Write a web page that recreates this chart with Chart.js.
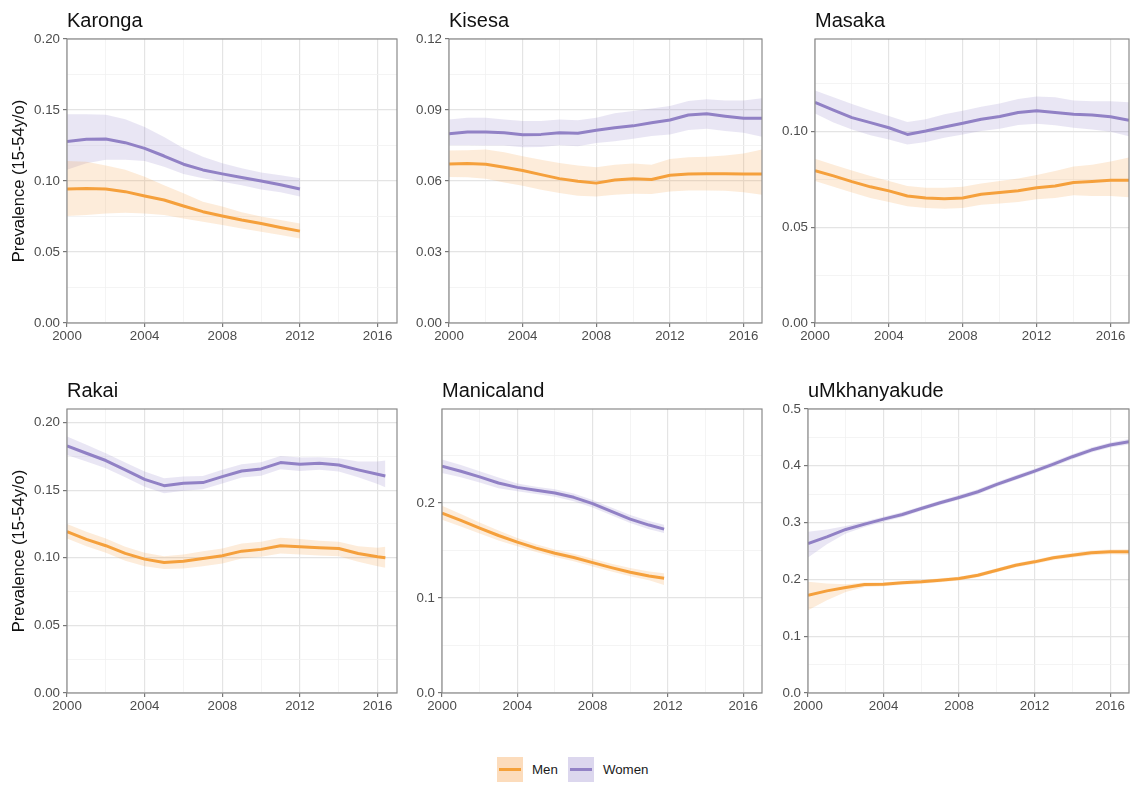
<!DOCTYPE html>
<html>
<head>
<meta charset="utf-8">
<script src="https://cdn.jsdelivr.net/npm/chart.js@4.4.1/dist/chart.umd.min.js"></script>
<style>
  body { margin: 0; background: #fff; width: 1131px; height: 787px; position: relative; overflow: hidden;
         font-family: "Liberation Sans", Arial, sans-serif; }
  canvas { position: absolute; }
  #legend { position: absolute; left: 497px; top: 757px; height: 25px; display: flex; align-items: center;
            font-size: 13.3px; color: #1a1a1a; }
  .key { width: 26px; height: 25px; position: relative; }
  .key span { position: absolute; left: 2px; right: 2px; top: 11px; height: 3px; }
  .lab { margin-left: 9px; margin-right: 10px; }
</style>
</head>
<body>
<canvas id="c0" width="400" height="355" style="left:0px;top:0px"></canvas>
<canvas id="c1" width="366" height="355" style="left:400px;top:0px"></canvas>
<canvas id="c2" width="365" height="355" style="left:766px;top:0px"></canvas>
<canvas id="c3" width="400" height="355" style="left:0px;top:370px"></canvas>
<canvas id="c4" width="366" height="355" style="left:400px;top:370px"></canvas>
<canvas id="c5" width="365" height="355" style="left:766px;top:370px"></canvas>
<div id="legend">
  <div class="key" style="background:#fcdcbc"><span style="background:#f5a13a"></span></div><span class="lab">Men</span>
  <div class="key" style="background:#dcd7ee"><span style="background:#9383c6"></span></div><span class="lab">Women</span>
</div>
<script>
// ---- Prevalence among 15-54 year olds, by site, sex and year (estimate with 95% band) ----
const karongaYears = [2000,2001,2002,2003,2004,2005,2006,2007,2008,2009,2010,2011,2012];
const karongaMen     = [0.0944,0.0948,0.0944,0.0925,0.0894,0.0866,0.0824,0.0784,0.0753,0.0725,0.0701,0.0673,0.0647];
const karongaMenHi   = [0.1140,0.1136,0.1110,0.1080,0.1030,0.0970,0.0913,0.0854,0.0820,0.0780,0.0750,0.0725,0.0700];
const karongaMenLo   = [0.0753,0.0760,0.0772,0.0776,0.0772,0.0760,0.0736,0.0713,0.0690,0.0666,0.0642,0.0619,0.0595];
const karongaWomen   = [0.1278,0.1294,0.1296,0.1270,0.1230,0.1176,0.1118,0.1078,0.1050,0.1024,0.1000,0.0974,0.0944];
const karongaWomenHi = [0.1470,0.1470,0.1466,0.1435,0.1380,0.1310,0.1230,0.1170,0.1125,0.1090,0.1060,0.1040,0.1020];
const karongaWomenLo = [0.1080,0.1125,0.1150,0.1150,0.1140,0.1100,0.1050,0.1020,0.0995,0.0970,0.0940,0.0920,0.0890];

const kisesaYears = [2000,2001,2002,2003,2004,2005,2006,2007,2008,2009,2010,2011,2012,2013,2014,2015,2016,2017];
const kisesaMen     = [0.0672,0.0674,0.0671,0.0658,0.0644,0.0627,0.0610,0.0599,0.0591,0.0604,0.0610,0.0606,0.0624,0.0630,0.0631,0.0631,0.0630,0.0630];
const kisesaMenHi   = [0.0729,0.0730,0.0733,0.0722,0.0705,0.0690,0.0676,0.0665,0.0658,0.0669,0.0674,0.0669,0.0693,0.0700,0.0702,0.0708,0.0716,0.0733];
const kisesaMenLo   = [0.0617,0.0616,0.0610,0.0594,0.0580,0.0563,0.0549,0.0538,0.0535,0.0542,0.0546,0.0545,0.0556,0.0560,0.0560,0.0559,0.0552,0.0542];
const kisesaWomen   = [0.0800,0.0807,0.0807,0.0804,0.0795,0.0797,0.0804,0.0802,0.0814,0.0825,0.0833,0.0846,0.0858,0.0879,0.0884,0.0874,0.0865,0.0865];
const kisesaWomenHi = [0.0860,0.0867,0.0867,0.0860,0.0853,0.0853,0.0860,0.0857,0.0867,0.0886,0.0896,0.0906,0.0917,0.0938,0.0945,0.0940,0.0940,0.0950];
const kisesaWomenLo = [0.0751,0.0751,0.0750,0.0750,0.0743,0.0744,0.0751,0.0747,0.0761,0.0768,0.0778,0.0790,0.0797,0.0815,0.0821,0.0811,0.0804,0.0787];

const masakaYears = [2000,2001,2002,2003,2004,2005,2006,2007,2008,2009,2010,2011,2012,2013,2014,2015,2016,2017];
const masakaMen     = [0.0797,0.0769,0.0739,0.0712,0.0691,0.0664,0.0654,0.0650,0.0654,0.0673,0.0682,0.0691,0.0707,0.0716,0.0735,0.0740,0.0746,0.0746];
const masakaMenHi   = [0.0859,0.0827,0.0797,0.0769,0.0742,0.0716,0.0707,0.0707,0.0712,0.0730,0.0742,0.0756,0.0774,0.0795,0.0818,0.0827,0.0845,0.0866];
const masakaMenLo   = [0.0742,0.0712,0.0682,0.0654,0.0633,0.0611,0.0601,0.0597,0.0601,0.0618,0.0625,0.0633,0.0647,0.0654,0.0668,0.0664,0.0664,0.0657];
const masakaWomen   = [0.1154,0.1113,0.1074,0.1048,0.1021,0.0986,0.1004,0.1025,0.1044,0.1065,0.1080,0.1101,0.1110,0.1101,0.1092,0.1087,0.1078,0.1060];
const masakaWomenHi = [0.1216,0.1180,0.1145,0.1113,0.1083,0.1051,0.1065,0.1092,0.1110,0.1131,0.1148,0.1171,0.1184,0.1180,0.1163,0.1159,0.1159,0.1154];
const masakaWomenLo = [0.1095,0.1048,0.1012,0.0982,0.0959,0.0933,0.0947,0.0968,0.0986,0.1004,0.1016,0.1035,0.1042,0.1034,0.1021,0.1012,0.1000,0.0977];

const rakaiYears = [2000,2001,2002,2003,2004,2005,2006,2007,2008,2009,2010,2011,2012,2013,2014,2015,2016,2016.4];
const rakaiMen     = [0.1193,0.1136,0.1089,0.1032,0.0990,0.0965,0.0975,0.0995,0.1015,0.1049,0.1062,0.1089,0.1081,0.1074,0.1069,0.1032,0.1007,0.1000];
const rakaiMenHi   = [0.1249,0.1193,0.1143,0.1081,0.1037,0.1012,0.1025,0.1049,0.1069,0.1106,0.1119,0.1148,0.1138,0.1126,0.1119,0.1086,0.1074,0.1081];
const rakaiMenLo   = [0.1143,0.1086,0.1037,0.0978,0.0938,0.0916,0.0921,0.0938,0.0958,0.0995,0.1007,0.1032,0.1025,0.1017,0.1012,0.0970,0.0938,0.0926];
const rakaiWomen   = [0.1827,0.1773,0.1719,0.1650,0.1580,0.1533,0.1551,0.1556,0.1600,0.1642,0.1657,0.1704,0.1691,0.1699,0.1686,0.1650,0.1617,0.1605];
const rakaiWomenHi = [0.1896,0.1835,0.1773,0.1704,0.1637,0.1588,0.1600,0.1605,0.1650,0.1691,0.1706,0.1753,0.1741,0.1743,0.1736,0.1711,0.1711,0.1719];
const rakaiWomenLo = [0.1760,0.1711,0.1662,0.1595,0.1526,0.1477,0.1496,0.1506,0.1550,0.1593,0.1607,0.1654,0.1642,0.1650,0.1637,0.1595,0.1546,0.1521];

const manicalandYears = [2000,2001,2002,2003,2004,2005,2006,2007,2008,2009,2010,2011,2011.8];
const manicalandMen     = [0.1894,0.1817,0.1736,0.1658,0.1588,0.1525,0.1472,0.1426,0.1373,0.1320,0.1271,0.1232,0.1208];
const manicalandMenHi   = [0.1972,0.1885,0.1795,0.1710,0.1632,0.1566,0.1512,0.1466,0.1413,0.1362,0.1315,0.1279,0.1260];
const manicalandMenLo   = [0.1824,0.1752,0.1678,0.1606,0.1544,0.1484,0.1432,0.1386,0.1333,0.1279,0.1228,0.1186,0.1137];
const manicalandWomen   = [0.2387,0.2335,0.2275,0.2211,0.2165,0.2134,0.2106,0.2060,0.1993,0.1912,0.1831,0.1768,0.1725];
const manicalandWomenHi = [0.2458,0.2400,0.2335,0.2268,0.2205,0.2172,0.2145,0.2100,0.2033,0.1953,0.1873,0.1812,0.1771];
const manicalandWomenLo = [0.2317,0.2272,0.2216,0.2155,0.2124,0.2095,0.2066,0.2020,0.1953,0.1871,0.1789,0.1725,0.1683];

const umkhanyakudeYears = [2000,2001,2002,2003,2004,2005,2006,2007,2008,2009,2010,2011,2012,2013,2014,2015,2016,2017];
const umkhanyakudeMen     = [0.1722,0.1798,0.1857,0.1910,0.1915,0.1939,0.1957,0.1986,0.2015,0.2074,0.2162,0.2250,0.2309,0.2380,0.2427,0.2468,0.2485,0.2485];
const umkhanyakudeMenHi   = [0.1957,0.1927,0.1915,0.1945,0.1950,0.1972,0.1990,0.2019,0.2048,0.2108,0.2196,0.2285,0.2345,0.2417,0.2466,0.2508,0.2527,0.2532];
const umkhanyakudeMenLo   = [0.1457,0.1633,0.1780,0.1868,0.1878,0.1904,0.1923,0.1952,0.1981,0.2039,0.2127,0.2214,0.2272,0.2342,0.2387,0.2426,0.2441,0.2436];
const umkhanyakudeWomen   = [0.2632,0.2750,0.2879,0.2973,0.3061,0.3143,0.3249,0.3349,0.3443,0.3543,0.3672,0.3790,0.3907,0.4031,0.4160,0.4277,0.4365,0.4424];
const umkhanyakudeWomenHi = [0.2838,0.2880,0.2938,0.3020,0.3105,0.3185,0.3290,0.3390,0.3484,0.3585,0.3713,0.3832,0.3950,0.4075,0.4203,0.4320,0.4410,0.4472];
const umkhanyakudeWomenLo = [0.2385,0.2620,0.2808,0.2922,0.3015,0.3100,0.3207,0.3308,0.3402,0.3501,0.3630,0.3748,0.3864,0.3987,0.4117,0.4234,0.4320,0.4376];

// Axis settings: upper limit, gridline step, labelled step, label decimals
const siteNames  = ['Karonga', 'Kisesa', 'Masaka', 'Rakai', 'Manicaland', 'uMkhanyakude'];
const yMax       = [0.2, 0.12, 0.1485, 0.21, 0.299, 0.5];
const yGridStep  = [0.025, 0.015, 0.025, 0.025, 0.05, 0.05];
const yLabelStep = [0.05, 0.03, 0.05, 0.05, 0.1, 0.1];
const yDecimals  = [2, 2, 2, 2, 1, 1];
const xMin = 2000, xMax = 2017, xGridStep = 2, xLabelStep = 4;
const yAxisTitle = 'Prevalence (15-54y/o)';
const seriesNames = ['Men', 'Women'];

const siteSeries = [
  [karongaYears, karongaMen, karongaMenLo, karongaMenHi, karongaWomen, karongaWomenLo, karongaWomenHi],
  [kisesaYears, kisesaMen, kisesaMenLo, kisesaMenHi, kisesaWomen, kisesaWomenLo, kisesaWomenHi],
  [masakaYears, masakaMen, masakaMenLo, masakaMenHi, masakaWomen, masakaWomenLo, masakaWomenHi],
  [rakaiYears, rakaiMen, rakaiMenLo, rakaiMenHi, rakaiWomen, rakaiWomenLo, rakaiWomenHi],
  [manicalandYears, manicalandMen, manicalandMenLo, manicalandMenHi, manicalandWomen, manicalandWomenLo, manicalandWomenHi],
  [umkhanyakudeYears, umkhanyakudeMen, umkhanyakudeMenLo, umkhanyakudeMenHi, umkhanyakudeWomen, umkhanyakudeWomenLo, umkhanyakudeWomenHi]
];

// ---- styling ----
const FONT = '"Liberation Sans", Arial, Helvetica, sans-serif';
const MEN_LINE = '#f5a13a', WOMEN_LINE = '#9383c6';
const MEN_BAND = 'rgba(245,160,70,0.20)', WOMEN_BAND = 'rgba(140,120,195,0.19)';
const GRID_MAJOR = '#e4e4e4', GRID_MINOR = '#f1f1f1';
const TICK_COLOR = '#777', FRAME_COLOR = '#8a8a8a';
const padLeft  = [27, 9, 9, 27, 2, 2];
const padRight = [3, 4, 2, 3, 4, 2];

const isMultiple = (v, step) => Math.abs(v / step - Math.round(v / step)) < 1e-6;
const pts = (xs, ys) => xs.map((x, i) => ({ x: x, y: ys[i] }));

// panel frame, panel title and (first column) y-axis title
const panelDecor = {
  id: 'panelDecor',
  afterDatasetsDraw(chart) {
    const { ctx, chartArea: a } = chart;
    ctx.save();
    ctx.strokeStyle = FRAME_COLOR;
    ctx.lineWidth = 1.2;
    ctx.strokeRect(a.left, a.top, a.right - a.left, a.bottom - a.top);
    ctx.restore();
  },
  afterDraw(chart, args, opts) {
    const { ctx, chartArea: a } = chart;
    ctx.save();
    ctx.fillStyle = '#111';
    ctx.font = '20px ' + FONT;
    ctx.textAlign = 'left';
    ctx.textBaseline = 'alphabetic';
    ctx.fillText(opts.title, a.left, a.top - 12);
    if (opts.yTitle) {
      ctx.translate(19.5, (a.top + a.bottom) / 2);
      ctx.rotate(-Math.PI / 2);
      ctx.font = '16.5px ' + FONT;
      ctx.textAlign = 'center';
      ctx.textBaseline = 'middle';
      ctx.fillText(opts.yTitle, 0, 0);
    }
    ctx.restore();
  }
};

siteNames.forEach((name, i) => {
  const [yrs, men, menLo, menHi, women, womenLo, womenHi] = siteSeries[i];
  const band = (data, color, fill) => ({
    type: 'line', data: pts(yrs, data), borderWidth: 0, pointRadius: 0,
    backgroundColor: color, fill: fill, tension: 0
  });
  const line = (label, data, color) => ({
    type: 'line', label: label, data: pts(yrs, data), borderColor: color, borderWidth: 3,
    pointRadius: 0, fill: false, tension: 0, borderJoinStyle: 'round'
  });

  new Chart(document.getElementById('c' + i), {
    type: 'line',
    data: {
      datasets: [
        band(menLo, 'transparent', false),
        band(menHi, MEN_BAND, '-1'),
        band(womenLo, 'transparent', false),
        band(womenHi, WOMEN_BAND, '-1'),
        line(seriesNames[0], men, MEN_LINE),
        line(seriesNames[1], women, WOMEN_LINE)
      ]
    },
    options: {
      responsive: false,
      animation: false,
      devicePixelRatio: 1,
      layout: { padding: { left: padLeft[i], right: padRight[i], top: 39, bottom: 2 } },
      plugins: {
        legend: { display: false },
        tooltip: { enabled: false },
        panelDecor: { title: name, yTitle: (i % 3 === 0) ? yAxisTitle : null }
      },
      scales: {
        x: {
          type: 'linear', min: xMin, max: xMax,
          afterFit: s => { s.height = 30; },
          border: { display: false },
          grid: {
            color: c => isMultiple(c.tick.value, xLabelStep) ? GRID_MAJOR : GRID_MINOR,
            lineWidth: c => isMultiple(c.tick.value, xLabelStep) ? 1.2 : 0.8,
            tickColor: c => isMultiple(c.tick.value, xLabelStep) ? TICK_COLOR : 'rgba(0,0,0,0)',
            tickLength: 4, drawTicks: true
          },
          ticks: {
            stepSize: xGridStep, includeBounds: false, autoSkip: false, maxRotation: 0, padding: 1,
            color: '#4d4d4d', font: { family: FONT, size: 13.3 },
            callback: v => isMultiple(v, xLabelStep) ? String(v) : ''
          }
        },
        y: {
          type: 'linear', min: 0, max: yMax[i],
          afterFit: s => { s.width = 40; },
          border: { display: false },
          grid: {
            color: c => isMultiple(c.tick.value, yLabelStep[i]) ? GRID_MAJOR : GRID_MINOR,
            lineWidth: c => isMultiple(c.tick.value, yLabelStep[i]) ? 1.2 : 0.8,
            tickColor: c => isMultiple(c.tick.value, yLabelStep[i]) ? TICK_COLOR : 'rgba(0,0,0,0)',
            tickLength: 4, drawTicks: true
          },
          ticks: {
            stepSize: yGridStep[i], includeBounds: false, autoSkip: false, padding: 3,
            color: '#4d4d4d', font: { family: FONT, size: 13.3 },
            callback: v => isMultiple(v, yLabelStep[i]) ? v.toFixed(yDecimals[i]) : ''
          }
        }
      }
    },
    plugins: [panelDecor]
  });
});
</script>
</body>
</html>
